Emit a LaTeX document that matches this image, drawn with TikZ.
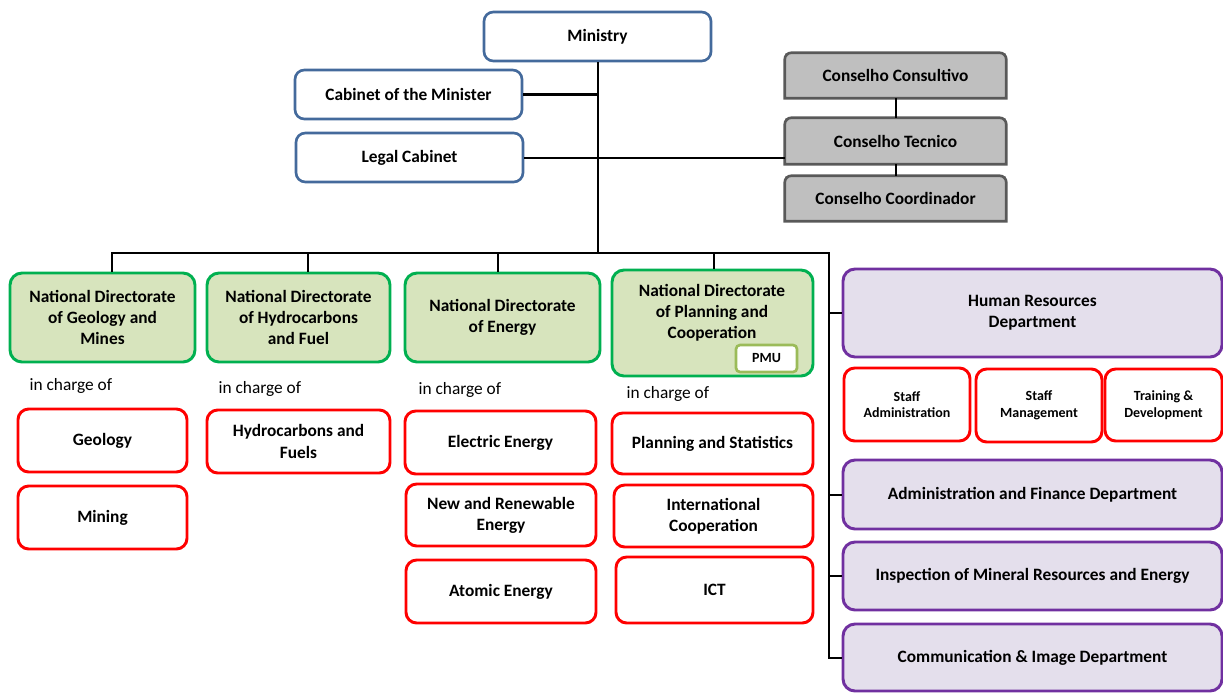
\documentclass[tikz,border=0pt]{standalone}
\usepackage{fontspec}
\setmainfont{Carlito}
\begin{document}
\definecolor{blueline}{RGB}{68,106,156}
\definecolor{greyfill}{RGB}{191,191,191}
\definecolor{greyline}{RGB}{89,89,89}
\definecolor{greenfill}{RGB}{215,228,189}
\definecolor{greenline}{RGB}{0,176,80}
\definecolor{pmuline}{RGB}{155,187,89}
\definecolor{redline}{RGB}{255,0,0}
\definecolor{purplefill}{RGB}{228,223,236}
\definecolor{purpleline}{RGB}{112,48,160}
% place a box from its corner coordinates (in px)
\newcommand\orgbox[7]{%
  \pgfmathsetmacro\cx{(#3+#5)/2}\pgfmathsetmacro\cy{(#4+#6)/2}%
  \pgfmathsetmacro\bw{(#5-#3)*0.75}\pgfmathsetmacro\bh{(#6-#4)*0.75}%
  \node[#1, minimum width=\bw pt, minimum height=\bh pt] (#2) at (\cx,\cy) {#7};}
\begin{tikzpicture}[x=0.75pt, y=-0.75pt,
  every node/.style={font=\bfseries\fontsize{13}{15.8}\selectfont, align=center, inner sep=1pt},
  topbox/.style={draw=blueline, line width=2pt, fill=white, rounded corners=7pt},
  conbox/.style={fill=greyfill},
  dirbox/.style={draw=greenline, line width=2.2pt, fill=greenfill, rounded corners=9pt},
  pmubox/.style={draw=pmuline, line width=2pt, fill=white, rounded corners=3pt, font=\bfseries\fontsize{10.5}{12}\selectfont},
  unitbox/.style={draw=redline, line width=2.2pt, fill=white, rounded corners=8pt},
  smallunit/.style={unitbox, font=\bfseries\fontsize{10.5}{12.5}\selectfont},
  deptbox/.style={draw=purpleline, line width=2.2pt, fill=purplefill, rounded corners=9pt},
  charge/.style={font=\fontsize{13}{15}\selectfont, anchor=west},
  link/.style={line width=1.5pt, black}]
\useasboundingbox (0,0) rectangle (1223,693);

% top level
\orgbox{topbox}{min}{484}{12}{711}{61}{Ministry}
\orgbox{topbox}{cab}{295}{70}{522}{119}{Cabinet of the Minister}
\orgbox{topbox}{legal}{296}{133}{523}{182}{Legal Cabinet}

% councils: top corners rounded, bottom corners square
\orgbox{conbox}{cons}{785}{53}{1006}{98}{Conselho Consultivo}
\orgbox{conbox}{tec}{785}{118}{1006}{164}{Conselho Tecnico}
\orgbox{conbox}{coord}{785}{176}{1006}{221}{Conselho Coordinador}
\foreach \n in {cons,tec,coord}
  \draw[greyline, line width=2pt] (\n.south west) [rounded corners=5pt] -- (\n.north west) -- (\n.north east) [rounded corners=0pt] -- (\n.south east) -- cycle;

% national directorates
\orgbox{dirbox}{dgeo}{10}{273}{195}{362}{National Directorate\\of Geology and\\Mines}
\orgbox{dirbox}{dhyd}{207}{273}{390}{362}{National Directorate\\of Hydrocarbons\\and Fuel}
\orgbox{dirbox}{dene}{405}{273}{600}{362}{National Directorate\\of Energy}
\orgbox{dirbox}{dpla}{612}{270}{813}{376}{}
\node (dplat) at (712,313) {National Directorate\\of Planning and\\Cooperation};
\orgbox{pmubox}{pmu}{736}{345}{797}{372}{PMU}

\node[charge] (c1) at (28,386) {in charge of};
\node[charge] (c2) at (217,389) {in charge of};
\node[charge] (c3) at (417,390) {in charge of};
\node[charge] (c4) at (625,394) {in charge of};

% units
\orgbox{unitbox}{geol}{18}{409}{187}{472}{Geology}
\orgbox{unitbox}{mini}{18}{486}{187}{549}{Mining}
\orgbox{unitbox}{hydf}{207}{410}{390}{473}{Hydrocarbons and\\Fuels}
\orgbox{unitbox}{elec}{405}{411}{596}{474}{Electric Energy}
\orgbox{unitbox}{renw}{406}{484}{596}{546}{New and Renewable\\Energy}
\orgbox{unitbox}{atom}{406}{560}{596}{623}{Atomic Energy}
\orgbox{unitbox}{plst}{612}{413}{813}{474}{Planning and Statistics}
\orgbox{unitbox}{intc}{614}{485}{813}{547}{International\\Cooperation}
\orgbox{unitbox}{ict}{616}{557}{813}{623}{ICT}

% departments
\orgbox{deptbox}{hr}{843}{269}{1222}{357}{Human Resources\\Department}
\orgbox{smallunit}{sadm}{844}{368}{970}{441}{Staff\\Administration}
\orgbox{smallunit}{smgt}{976}{369}{1102}{442}{Staff\\Management}
\orgbox{smallunit}{trdv}{1105}{369}{1222}{441}{Training \&\\Development}
\orgbox{deptbox}{adm}{843}{460}{1222}{529}{Administration and Finance Department}
\orgbox{deptbox}{insp}{843}{542}{1222}{610}{Inspection of Mineral Resources and Energy}
\orgbox{deptbox}{comm}{843}{624}{1222}{691}{Communication \& Image Department}

% connectors
\coordinate (busL) at (112,253);
\coordinate (busR) at (829,253);
\coordinate (d2) at (308,253);
\coordinate (d3) at (498,253);
\coordinate (d4) at (714,253);
\draw[link] (min.south) -- (min.south |- busL);
\draw[link, line width=2.2pt] (cab.east) -- (cab.east -| min.south);
\draw[link] (legal.east) -- (legal.east -| tec.west);
\draw[link] (cons.south) -- (tec.north);
\draw[link] (tec.south) -- (coord.north);
\draw[link] (busL |- dgeo.north) -- (busL) -- (busR) -- (busR |- comm.west) -- (comm.west);
\draw[link] (d2) -- (d2 |- dhyd.north);
\draw[link] (d3) -- (d3 |- dene.north);
\draw[link] (d4) -- (d4 |- dpla.north);
\draw[link] (busR |- hr.west) -- (hr.west);
\draw[link] (busR |- adm.west) -- (adm.west);
\draw[link] (busR |- insp.west) -- (insp.west);
\end{tikzpicture}
\end{document}
